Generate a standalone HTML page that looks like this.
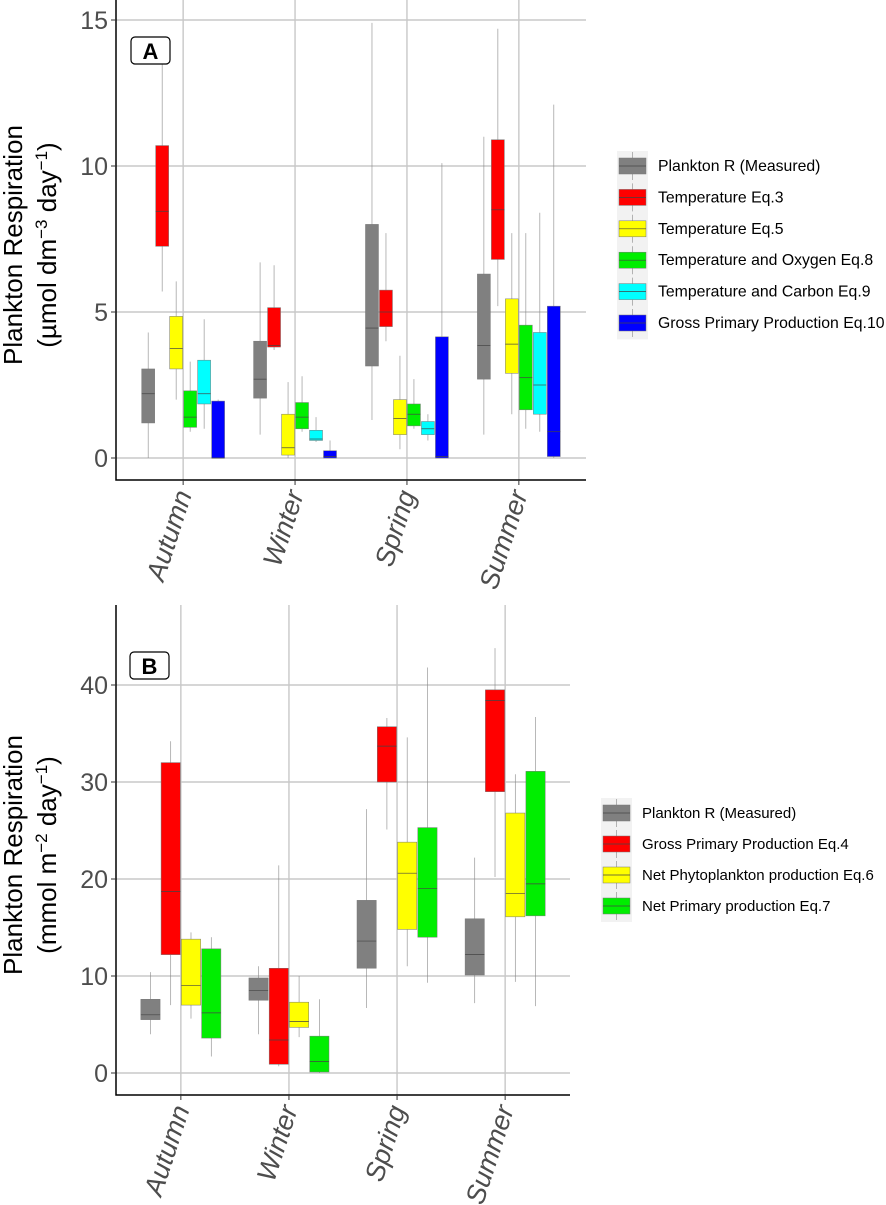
<!DOCTYPE html>
<html><head><meta charset="utf-8"><style>
body{margin:0;background:#fff;}
svg{display:block;font-family:"Liberation Sans",Arial,sans-serif;}
</style></head><body>
<svg id="c" width="886" height="1205" viewBox="0 0 886 1205"></svg>
<script>
const seasons=["Autumn","Winter","Spring","Summer"];
// Panel A: [lowWhisker, q1, median, q3, highWhisker] per season per series
const seriesA=["Plankton R (Measured)","Temperature Eq.3","Temperature Eq.5","Temperature and Oxygen Eq.8","Temperature and Carbon Eq.9","Gross Primary Production Eq.10"];
const colorsA=["#808080","#ff0000","#ffff00","#00ee00","#00ffff","#0000ff"];
const measuredA=[[0,1.2,2.2,3.05,4.3],[0.8,2.05,2.7,4.0,6.7],[1.3,3.15,4.45,8.0,14.9],[0.8,2.7,3.85,6.3,11.0]];
const eq3A=[[5.7,7.25,8.45,10.7,13.5],[3.7,3.8,3.85,5.15,6.6],[4.0,4.5,5.0,5.75,7.7],[5.2,6.8,8.5,10.9,14.7]];
const eq5A=[[2.0,3.05,3.75,4.85,6.05],[0,0.1,0.35,1.5,2.6],[0.3,0.8,1.35,2.0,3.5],[1.5,2.9,3.9,5.45,7.7]];
const eq8A=[[0.9,1.05,1.4,2.3,3.3],[0.9,1.0,1.4,1.9,2.8],[1.0,1.1,1.5,1.85,2.7],[1.0,1.65,2.75,4.55,7.7]];
const eq9A=[[1.0,1.85,2.2,3.35,4.75],[0.55,0.6,0.65,0.95,1.4],[0.6,0.8,1.0,1.25,1.5],[0.9,1.5,2.5,4.3,8.4]];
const eq10A=[[0,0,0,1.95,2.0],[0,0,0.05,0.25,0.6],[0,0,0.05,4.15,10.1],[0,0.05,0.9,5.2,12.1]];
const ticksA=[0,5,10,15];
// Panel B
const seriesB=["Plankton R (Measured)","Gross Primary Production Eq.4","Net Phytoplankton production Eq.6","Net Primary production Eq.7"];
const colorsB=["#808080","#ff0000","#ffff00","#00ee00"];
const measuredB=[[4.0,5.5,6.0,7.6,10.4],[4.0,7.5,8.5,9.8,11.0],[6.7,10.8,13.6,17.8,27.2],[7.2,10.1,12.2,15.9,22.2]];
const eq4B=[[7.0,12.2,18.7,32.0,34.2],[0.7,0.9,3.4,10.8,21.4],[25.1,30.0,33.7,35.7,36.6],[20.2,29.0,38.4,39.5,43.8]];
const eq6B=[[5.6,7.0,9.0,13.8,14.5],[3.7,4.7,5.3,7.3,10.0],[11.0,14.8,20.6,23.8,34.6],[9.4,16.1,18.5,26.8,30.8]];
const eq7B=[[1.7,3.6,6.2,12.8,14.0],[0,0.1,1.2,3.8,7.6],[9.3,14.0,19.0,25.3,41.8],[6.9,16.2,19.5,31.1,36.7]];
const ticksB=[0,10,20,30,40];

const NS="http://www.w3.org/2000/svg";
const svg=document.getElementById('c');
function el(tag,attrs,parent,text){const e=document.createElementNS(NS,tag);for(const k in attrs)e.setAttribute(k,attrs[k]);if(text!==undefined)e.textContent=text;(parent||svg).appendChild(e);return e;}

function panel(cfg){
  const g=el('g',{});
  
  
  const {x0,x1,y0,y1,yZero,yPer}=cfg;
  const Y=v=>yZero-v*yPer;
  const band=(x1-x0)/4.2;
  const X=i=>x0+band*(0.6+i);
  cfg.ticks.forEach(t=>{const l=el('line',{x1:x0,x2:x1,y1:Y(t),y2:Y(t),stroke:'#c8c8c8','stroke-width':1.4},g);
    });
  seasons.forEach((s,i)=>{const l=el('line',{x1:X(i),x2:X(i),y1:y0,y2:y1,stroke:'#c8c8c8','stroke-width':1.4},g);
    });
  const n=cfg.data.length, w=band*0.75/n;
  cfg.data.forEach((ser,si)=>{
    ser.forEach((d,i)=>{
      const cx=X(i)-band*0.375+w*(si+0.5);
      const bg=el('g',{},g);
      
      
      el('line',{x1:cx,x2:cx,y1:Y(d[0]),y2:Y(d[4]),stroke:'#888','stroke-width':0.6},bg);
      el('rect',{x:cx-w/2+0.5,y:Y(d[3]),width:w-1,height:Math.max(Y(d[1])-Y(d[3]),1),fill:cfg.colors[si],stroke:'#777','stroke-width':0.5},bg);
      el('line',{x1:cx-w/2+0.5,x2:cx+w/2-0.5,y1:Y(d[2]),y2:Y(d[2]),stroke:'#444','stroke-width':0.7},bg);
    });
  });
  const ax=el('path',{d:`M${x0},${y0} V${y1} H${x1}`,stroke:'#000','stroke-width':1.5,fill:'none'},g);
  
  cfg.ticks.forEach(t=>{el('line',{x1:x0-5,x2:x0,y1:Y(t),y2:Y(t),stroke:'#333'},g);
    const tx=el('text',{x:x0-8,y:Y(t)+9,'text-anchor':'end','font-size':25,fill:'#4d4d4d'},g,t);
    });
  seasons.forEach((s,i)=>{el('line',{x1:X(i),x2:X(i),y1:y1,y2:y1+5,stroke:'#333'},g);
    const tx=el('text',{transform:`translate(${X(i)+9},${y1+14}) rotate(-72)`,'text-anchor':'end','font-size':27,'font-style':'italic',fill:'#4d4d4d'},g,s);
    });
  el('rect',{x:cfg.tag[0],y:cfg.tag[1],width:39,height:27,rx:4,fill:'#fff',stroke:'#000','stroke-width':1.2},g);
  const tg=el('text',{x:cfg.tag[0]+19.5,y:cfg.tag[1]+22,'text-anchor':'middle','font-size':22,'font-weight':'bold'},g,cfg.letter);
  
  const yt=el('text',{transform:`translate(22,${cfg.ytY}) rotate(-90)`,'text-anchor':'middle','font-size':26},g);
  
  el('tspan',{x:0,dy:0},yt,'Plankton Respiration');
  el('tspan',{x:0,dy:34},yt,'('+cfg.unit1);
  el('tspan',{dy:-9,'font-size':17},yt,cfg.sup1);
  el('tspan',{dy:9},yt,cfg.unit2);
  el('tspan',{dy:-9,'font-size':17},yt,'−1');
  el('tspan',{dy:9},yt,')');
  const lg=el('g',{},g);
  
  const L=cfg.legend;
  el('rect',{x:L.x,y:L.y-15,width:31,height:L.dy*n,fill:'#f2f2f2'},lg);
  cfg.series.forEach((s,si)=>{
    const cy=L.y+L.dy*si;
    const e=el('g',{},lg);
    
    el('line',{x1:L.x+15.5,x2:L.x+15.5,y1:cy-14,y2:cy+14,stroke:'#888','stroke-width':0.6},e);
    el('rect',{x:L.x+2,y:cy-8,width:27,height:16,fill:cfg.colors[si],stroke:'#777','stroke-width':0.5},e);
    el('line',{x1:L.x+2,x2:L.x+29,y1:cy,y2:cy,stroke:'#444','stroke-width':0.7},e);
    el('text',{x:L.x+41,y:cy+5,'font-size':L.fs,fill:'#000'},e,s);
  });
}
panel({name:'panel-a',letter:'A',x0:116,x1:586,y0:0,y1:480,yZero:458,yPer:29.2,ticks:ticksA,data:[measuredA,eq3A,eq5A,eq8A,eq9A,eq10A],colors:colorsA,series:seriesA,tag:[131,37],ytY:245,unit1:'µmol dm',sup1:'−3',unit2:' day',legend:{x:617,y:166,dy:31.4,fs:15.8}});
panel({name:'panel-b',letter:'B',x0:116,x1:570,y0:605,y1:1095,yZero:1073,yPer:9.7,ticks:ticksB,data:[measuredB,eq4B,eq6B,eq7B],colors:colorsB,series:seriesB,tag:[130,652],ytY:855,unit1:'mmol m',sup1:'−2',unit2:' day',legend:{x:601,y:813,dy:31,fs:15}});
</script>
</body></html>
